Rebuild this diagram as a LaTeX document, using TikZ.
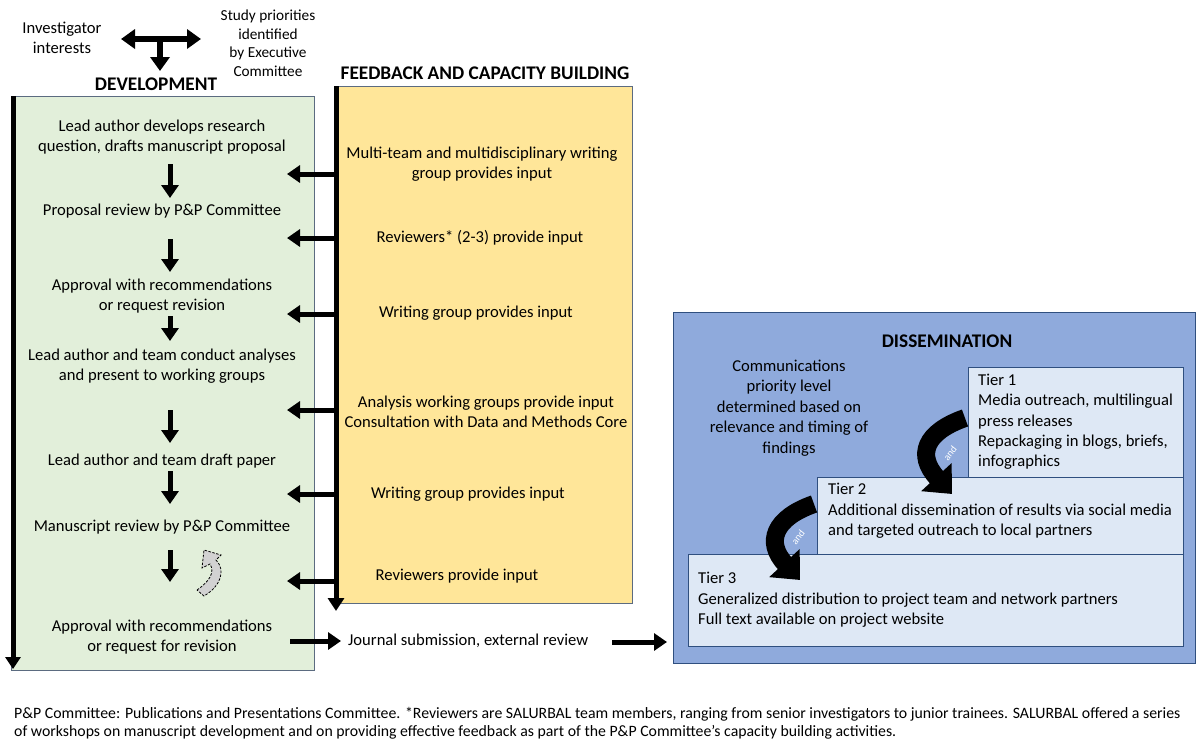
\documentclass[tikz,border=0pt]{standalone}
\usepackage{fontspec}
\setmainfont{Carlito}
\usetikzlibrary{arrows.meta}
\definecolor{devgreen}{HTML}{E2EFDA}
\definecolor{fbyellow}{HTML}{FFE699}
\definecolor{disblue}{HTML}{8FAADC}
\definecolor{tierblue}{HTML}{DEE8F5}
\definecolor{edgeblue}{HTML}{2F4F7F}
\definecolor{edgegrey}{HTML}{5B6B80}
\tikzset{
  txt/.style={font=\fontsize{16.6}{20.5}\selectfont, align=center, inner sep=0pt},
  ltxt/.style={font=\fontsize{16.6}{20.3}\selectfont, align=left, inner sep=0pt, anchor=west},
  hdr/.style={font=\bfseries\fontsize{19.3}{22}\selectfont, inner sep=0pt},
  blk/.style={line width=5pt, -{Triangle[width=17pt,length=13pt]}},
  curvarr/.style={line width=18pt, -{Triangle[width=40pt,length=23pt]}},
  andtxt/.style={font=\fontsize{10}{11}\selectfont, text=white, inner sep=0pt},
}
\begin{document}
\begin{tikzpicture}[x=1pt,y=-1pt]
\useasboundingbox (0,0) rectangle (1197,740);
% panels
\draw[edgegrey, fill=devgreen, line width=0.7pt] (11,96) rectangle (314,670);
\draw[edgegrey, fill=fbyellow, line width=0.7pt] (334,86) rectangle (632,603);
\draw[edgeblue, fill=disblue, line width=0.8pt] (673,312) rectangle (1195,663);
\draw[edgeblue, fill=tierblue, line width=0.8pt] (688,554) rectangle (1183,646);
\draw[edgeblue, fill=tierblue, line width=0.8pt] (817,477) rectangle (1183,554);
\draw[edgeblue, fill=tierblue, line width=0.8pt] (968,367) rectangle (1183,477);

% top
\node[txt] (inv) at (62,38) {Investigator\\interests};
\node[txt, font=\fontsize{15.3}{18.5}\selectfont] (prio) at (268,43) {Study priorities\\identified\\by Executive\\Committee};
\coordinate (tl) at (121,39);
\coordinate (tr) at (201,39);
\coordinate (tc) at (160,39);
\coordinate (tb) at (160,71);
\draw[line width=6pt, {Triangle[width=19pt,length=14pt]}-{Triangle[width=19pt,length=14pt]}] (tl) -- (tr);
\draw[line width=6pt, -{Triangle[width=19pt,length=14pt]}] (tc) -- (tb);
\node[hdr] (devh) at (156,84) {DEVELOPMENT};
\node[hdr] (fbh) at (485,73) {FEEDBACK AND CAPACITY BUILDING};
\node[hdr] (dish) at (947,341) {DISSEMINATION};

% development texts
\node[txt] (d1) at (162,137) {Lead author develops research\\question, drafts manuscript proposal};
\node[txt] (d2) at (162,211) {Proposal review by P\&P Committee};
\node[txt] (d3) at (162,296) {Approval with recommendations\\or request revision};
\node[txt] (d4) at (162,366) {Lead author and team conduct analyses\\and present to working groups};
\node[txt] (d5) at (162,461) {Lead author and team draft paper};
\node[txt] (d6) at (162,527) {Manuscript review by P\&P Committee};
\node[txt] (d7) at (162,637) {Approval with recommendations\\or request for revision};

% feedback texts
\node[txt] (f1) at (482,164) {Multi-team and multidisciplinary writing\\group provides input};
\node[txt] (f2) at (480,238) {Reviewers* (2-3) provide input};
\node[txt] (f3) at (476,313) {Writing group provides input};
\node[txt] (f4) at (486,412) {Analysis working groups provide input\\Consultation with Data and Methods Core};
\node[txt] (f5) at (468,494) {Writing group provides input};
\node[txt] (f6) at (457,576) {Reviewers provide input};

% vertical lines
\coordinate (dvt) at (13,96);
\coordinate (dvb) at (13,669);
\draw[line width=5pt, -{Triangle[width=15pt,length=12pt]}] (dvt) -- (dvb);
\coordinate (fvt) at (336,86);
\coordinate (fvb) at (336,611);
\draw[line width=5pt, -{Triangle[width=16pt,length=13pt]}] (fvt) -- (fvb);

% left arrows from feedback line
\foreach \y/\n in {174/a,238/b,314/c,410/d,494/e,581/f}{
  \coordinate (s\n) at (336,\y);
  \coordinate (e\n) at (287,\y);
  \draw[blk] (s\n) -- (e\n);
}

% down arrows in development
\foreach \a/\b/\n in {164/198/a,239/272/b,316/341/c,410/443/d,471/504/e,550/582/f}{
  \coordinate (u\n) at (170,\a);
  \coordinate (v\n) at (170,\b);
  \draw[blk] (u\n) -- (v\n);
}

% grey dashed curved arrow
\draw[black, fill=gray!35, line width=0.8pt, dash pattern=on 2.5pt off 1.5pt]
  (197,590) .. controls (210,581) and (215,572) .. (210,564)
  -- (202,568) -- (204,550) -- (221,555) -- (216,560)
  .. controls (226,570) and (221,586) .. (204,596) -- cycle;

% journal
\node[txt, anchor=west] (jour) at (348,641) {Journal submission, external review};
\coordinate (ja) at (290,641);
\coordinate (jb) at (341,641);
\draw[blk] (ja) -- (jb);
\coordinate (jc) at (612,642);
\coordinate (jd) at (667,642);
\draw[blk] (jc) -- (jd);

% dissemination texts
\node[txt] (comm) at (789,408) {Communications\\priority level\\determined based on\\relevance and timing of\\findings};
\node[ltxt] (t1) at (978,422) {Tier 1\\Media outreach, multilingual\\press releases\\Repackaging in blogs, briefs,\\infographics};
\node[ltxt] (t2) at (828,511) {Tier 2\\Additional dissemination of results via social media\\and targeted outreach to local partners};
\node[ltxt] (t3) at (698,600) {Tier 3\\Generalized distribution to project team and network partners\\Full text available on project website};

% curved and arrows
\coordinate (c1s) at (965,418);
\coordinate (c1e) at (952,494);
\draw[curvarr] (c1s) .. controls (925,432) and (916,455) .. (c1e);
\node[andtxt, rotate=52] (and1) at (950,453) {and};
\coordinate (c2s) at (814,504);
\coordinate (c2e) at (800,580);
\draw[curvarr] (c2s) .. controls (774,518) and (765,542) .. (c2e);
\node[andtxt, rotate=52] (and2) at (798,537) {and};

% footnote
\node[font=\fontsize{15.8}{18.5}\selectfont, align=left, inner sep=0pt, anchor=west] (foot) at (14,723)
 {P\&P Committee: Publications and Presentations Committee. *Reviewers are SALURBAL team members, ranging from senior investigators to junior trainees. SALURBAL offered a series\\of workshops on manuscript development and on providing effective feedback as part of the P\&P Committee’s capacity building activities.};
\end{tikzpicture}
\end{document}
